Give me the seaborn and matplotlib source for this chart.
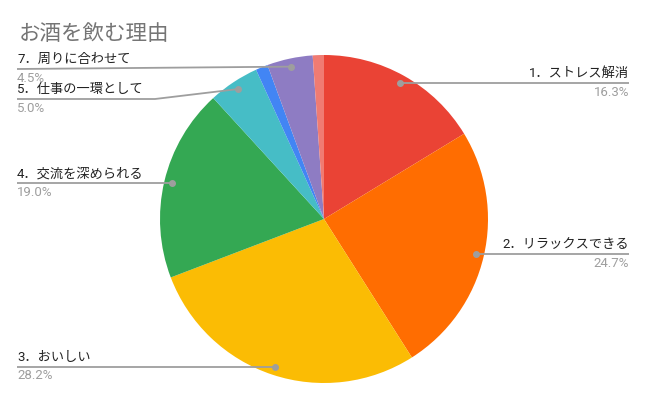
import numpy as np
import matplotlib
matplotlib.use('Agg')
import matplotlib.pyplot as plt
import seaborn as sns

# data
reasons = ['1．ストレス解消', '2．リラックスできる', '3．おいしい', '4．交流を深められる',
           '5．仕事の一環として', '6．その他', '7．周りに合わせて', '8．その他']
shares = [16.3, 24.7, 28.2, 19.0, 5.0, 1.2, 4.5, 1.1]
colors = ['#EA4335', '#FF6D01', '#FBBC04', '#34A853', '#46BDC6', '#4285F4', '#8E7CC3', '#F07B72']
shown = [True, True, True, True, True, False, True, False]

sns.set_style('white')
plt.rcParams['font.family'] = ['Roboto', 'Noto Sans CJK JP', 'DejaVu Sans']

W, H = 650, 403
fig = plt.figure(figsize=(6.5, 4.03), dpi=100)
ax = fig.add_axes([0, 0, 1, 1])

cx, cy, R = 324, H - 219, 164
pal = sns.color_palette(colors)
wedges, _ = ax.pie(shares, colors=pal, startangle=90, counterclock=False,
                   center=(cx, cy), radius=R, frame=True,
                   wedgeprops=dict(linewidth=0))
ax.set_xlim(0, W)
ax.set_ylim(0, H)
ax.axis('off')

ax.text(19, H - 39.5, 'お酒を飲む理由', fontsize=15.5, color='#757575', va='baseline', ha='left')

# label line y-positions for the crowded labels (pixel from top)
line_y = {4: 99, 6: 69}
bend_x = {4: 155}

line_col = '#9e9e9e'
for i, w in enumerate(wedges):
    if not shown[i]:
        continue
    theta = np.deg2rad((w.theta1 + w.theta2) / 2)
    dx = cx + 0.95 * R * np.cos(theta)
    dy = cy + 0.95 * R * np.sin(theta)
    right = dx > cx
    ly = H - line_y[i] if i in line_y else dy
    ex = 629 if right else 17
    if i in bend_x:
        ax.plot([ex, bend_x[i], dx], [ly, ly, dy], color=line_col, lw=1.3, solid_capstyle='butt')
    else:
        ax.plot([ex, dx], [ly, dy], color=line_col, lw=1.3, solid_capstyle='butt')
    ax.plot(dx, dy, 'o', color=line_col, ms=4)
    ha = 'right' if right else 'left'
    ax.text(ex, ly + 3, reasons[i], fontsize=9.5, color='#222222', ha=ha, va='bottom')
    ax.text(ex, ly - 2.5, f'{shares[i]:.1f}%', fontsize=9.5, color='#9e9e9e', ha=ha, va='top')

fig.savefig('out.png', dpi=100, facecolor='white')
